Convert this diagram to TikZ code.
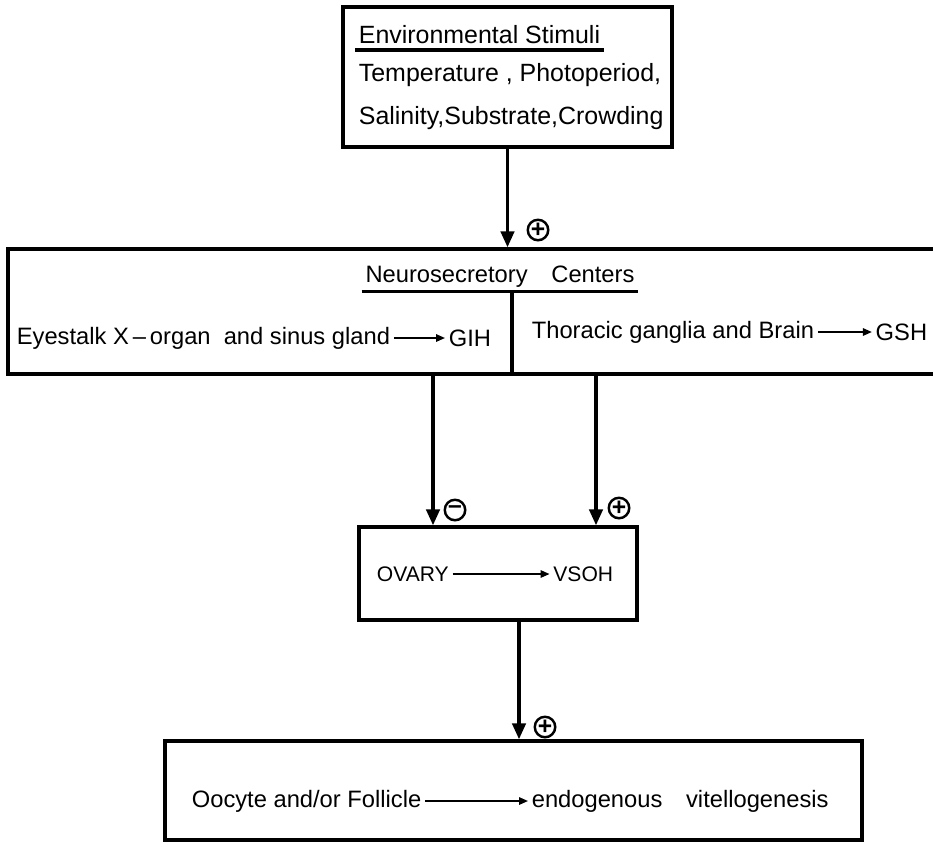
\documentclass[tikz,border=0pt]{standalone}
\usepackage{fontspec}
\setmainfont{Liberation Sans}
\usetikzlibrary{arrows.meta}

\begin{document}
\begin{tikzpicture}[
  x=0.02cm, y=-0.02cm,
  box/.style={draw, line width=2pt, inner sep=0pt},
  txt/.style={font=\fontsize{13.5}{16}\selectfont, inner sep=2pt},
  sign/.style={draw, circle, line width=1.4pt, minimum size=0.41cm, inner sep=0pt, font=\fontsize{14}{14}\selectfont\bfseries},
  arr/.style={line width=1.8pt, -{Triangle[length=0.32cm,width=0.27cm]}},
  tarr/.style={line width=0.9pt, -{Triangle[length=0.18cm,width=0.15cm]}},
]

	\useasboundingbox (0,0) rectangle (933,856);

	\node [box, minimum width=6.58cm, minimum height=2.8cm] (env) at (507.5,77) {};
	\node [txt, font=\fontsize{14.2}{17}\selectfont, anchor=west] (envtitle) at (355,35) {Environmental Stimuli};
	\node [txt, font=\fontsize{14.2}{17}\selectfont, anchor=west] (temp) at (355,75) {Temperature , Photoperiod,};
	\node [txt, font=\fontsize{14.2}{17}\selectfont, anchor=west] (salin) at (355,118) {Salinity,Substrate,Crowding};
	\draw [line width=2pt] ([yshift=-1pt]envtitle.south west) -- ([yshift=-1pt]envtitle.south east);

	\node [box, minimum width=18.74cm, minimum height=2.5cm] (neuro) at (476.5,311.5) {};
	\node [txt] (neurotitle) at (500,277) {Neurosecretory\quad Centers};
	\draw [line width=2pt] (neurotitle.south west) -- (neurotitle.south east);
	\coordinate (divtop) at (512,292);
	\draw [line width=2pt] (divtop) -- (divtop |- neuro.south);

	\node [txt, anchor=west] (eyestalk) at (13,338) {Eyestalk X\,--\,organ\ \ and sinus gland};
	\node [txt, anchor=west] (gih) at (445,338) {GIH};
	\draw [tarr] (eyestalk) -- (gih);
	\node [txt, anchor=west] (thoracic) at (528,332) {Thoracic ganglia and Brain};
	\node [txt, anchor=east] (gsh) at (931,332) {GSH};
	\draw [tarr] (thoracic) -- (gsh);

	\node [box, minimum width=5.56cm, minimum height=1.86cm] (ovary) at (498,573.5) {};
	\node [txt, font=\fontsize{12}{14}\selectfont, anchor=west] (ovarytxt) at (373,574) {OVARY};
	\node [txt, font=\fontsize{12}{14}\selectfont, anchor=east] (vsoh) at (617,574) {VSOH};
	\draw [tarr] (ovarytxt) -- (vsoh);

	\node [box, minimum width=13.94cm, minimum height=1.98cm] (follicle) at (513.5,790.5) {};
	\node [txt, anchor=west] (oocyte) at (188,801) {Oocyte and/or Follicle};
	\node [txt, anchor=west] (endo) at (528,801) {endogenous\quad vitellogenesis};
	\draw [tarr] (oocyte) -- (endo);

	\draw [arr] (env.south) -- (env.south |- neuro.north);
	\node [sign] (envsign) at (538,230) {+};

	\coordinate (gihline) at (433,0);
	\coordinate (gshline) at (596,0);
	\draw [arr] (gihline |- neuro.south) -- (gihline |- ovary.north);
	\draw [arr] (gshline |- neuro.south) -- (gshline |- ovary.north);
	\node [sign] (gihsign) at (455,510) {--};
	\node [sign] (gshsign) at (619,508) {+};

	\coordinate (ovaryline) at (519,0);
	\draw [arr] (ovaryline |- ovary.south) -- (ovaryline |- follicle.north);
	\node [sign] (ovarysign) at (545,727) {+};

\end{tikzpicture}
\end{document}
